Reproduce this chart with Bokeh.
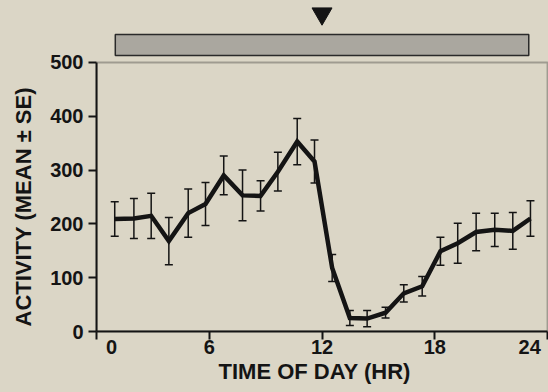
from bokeh.plotting import figure
from bokeh.models import (Range1d, ColumnDataSource, Whisker, TeeHead,
                          BoxAnnotation, FixedTicker, Title)
from bokeh.embed import file_html
from bokeh.resources import INLINE

# ---- data ----
hours = [0.97, 1.99, 2.91, 3.85, 4.88, 5.80, 6.77, 7.77, 8.73, 9.65, 10.68, 11.60,
         12.54, 13.48, 14.40, 15.38, 16.35, 17.33, 18.30, 19.22, 20.20, 21.19, 22.15, 23.09]
activity_mean = [209, 210, 215, 168, 220, 237, 290, 253, 252, 297, 353, 316,
                 118, 25, 24, 35, 71, 84, 149, 164, 185, 189, 187, 210]
activity_se = [32, 37, 42, 44, 45, 40, 36, 47, 28, 36, 43, 40,
               25, 14, 15, 10, 16, 18, 26, 37, 35, 31, 34, 33]
x_tick_values = [0, 6, 12, 18, 24]
x_tick_labels = ["0", "6", "12", "18", "24"]
y_ticks = [0, 100, 200, 300, 400, 500]
x_title = "TIME OF DAY (HR)"
y_title = "ACTIVITY (MEAN \u00b1 SE)"
bar_start, bar_end = 1, 23          # shaded bar above the plot (hours)
marker_hour = 12                    # black triangle marker (hour)

# ---- layout / style constants ----
BG = "#dbd6c6"
INK = "#141414"
FONT = "Liberation Sans"
X_END = 24.05
Y_END = 615.2                       # room above the 0-500 plot for the bar strip
BAR_BOTTOM, BAR_TOP = 513, 552
TRI_Y = 590.7
# label anchor positions (the end labels sit inward of their ticks)
x_label_pos = [0.8, 6, 12, 18, 23.05]

src = ColumnDataSource(dict(
    x=hours,
    y=activity_mean,
    upper=[m + s for m, s in zip(activity_mean, activity_se)],
    lower=[m - s for m, s in zip(activity_mean, activity_se)],
))

p = figure(width=548, height=392, output_backend="svg", toolbar_location=None,
           x_range=Range1d(0, X_END), y_range=Range1d(0, Y_END),
           min_border_left=96, min_border_right=0, min_border_top=0,
           min_border_bottom=61)
p.background_fill_color = BG
p.border_fill_color = BG
p.styles = {"background-color": BG}
p.outline_line_color = None
p.grid.visible = False

for ax in (p.xaxis[0], p.yaxis[0]):
    ax.axis_line_width = 2
    ax.axis_line_color = INK
    ax.major_tick_line_width = 2
    ax.major_tick_line_color = INK
    ax.major_tick_out = 8
    ax.major_tick_in = 0
    ax.minor_tick_in = 0
    ax.major_label_text_font = FONT
    ax.major_label_text_font_style = "bold"
    ax.major_label_text_font_size = "20px"
    ax.major_label_text_color = INK

# x axis: tick marks drawn as "minor" ticks at the true hours,
# labels placed at the (inward-shifted) positions used in the reference
xa = p.xaxis[0]
xa.ticker = FixedTicker(ticks=x_label_pos, minor_ticks=x_tick_values)
xa.major_label_overrides = {pos: lab for pos, lab in zip(x_label_pos, x_tick_labels)}
xa.major_tick_line_color = None
xa.minor_tick_out = 8
xa.minor_tick_line_width = 2
xa.minor_tick_line_color = INK
xa.major_label_standoff = 0
xa.bounds = (0, 24)

ya = p.yaxis[0]
ya.ticker = FixedTicker(ticks=y_ticks)
ya.minor_tick_out = 0
ya.bounds = (0, 500)
ya.major_label_standoff = 5

# axis titles (placed as side titles so they can be positioned along the 0-500 span)
title_kw = dict(text_font=FONT, text_font_style="bold", text_font_size="22px",
                text_color=INK)
p.add_layout(Title(text=y_title, align="left", offset=5, standoff=19,
                   vertical_align="top", **title_kw), "left")
p.add_layout(Title(text=x_title, align="left", offset=122, standoff=0, **title_kw), "below")

# frame (top and right edges)
p.add_layout(BoxAnnotation(left=0, right=24, bottom=0, top=500,
                           fill_color=None, line_color=INK, line_width=2))

# shaded bar and triangle above the plot
p.quad(left=[bar_start], right=[bar_end], bottom=[BAR_BOTTOM], top=[BAR_TOP],
       fill_color="#aaa79f", line_color="#2a2a2a", line_width=1.5)
p.scatter(x=[marker_hour], y=[TRI_Y], marker="inverted_triangle", size=20,
          fill_color=INK, line_color=INK)

# error bars
p.add_layout(Whisker(source=src, base="x", upper="upper", lower="lower",
                     dimension="height", line_color=INK, line_width=1.5,
                     upper_head=TeeHead(size=8, line_color=INK, line_width=1.5),
                     lower_head=TeeHead(size=8, line_color=INK, line_width=1.5)))

# mean line
p.line("x", "y", source=src, line_width=4.5, line_color=INK, line_join="miter")

open("out.html", "w").write(file_html(p, INLINE))
